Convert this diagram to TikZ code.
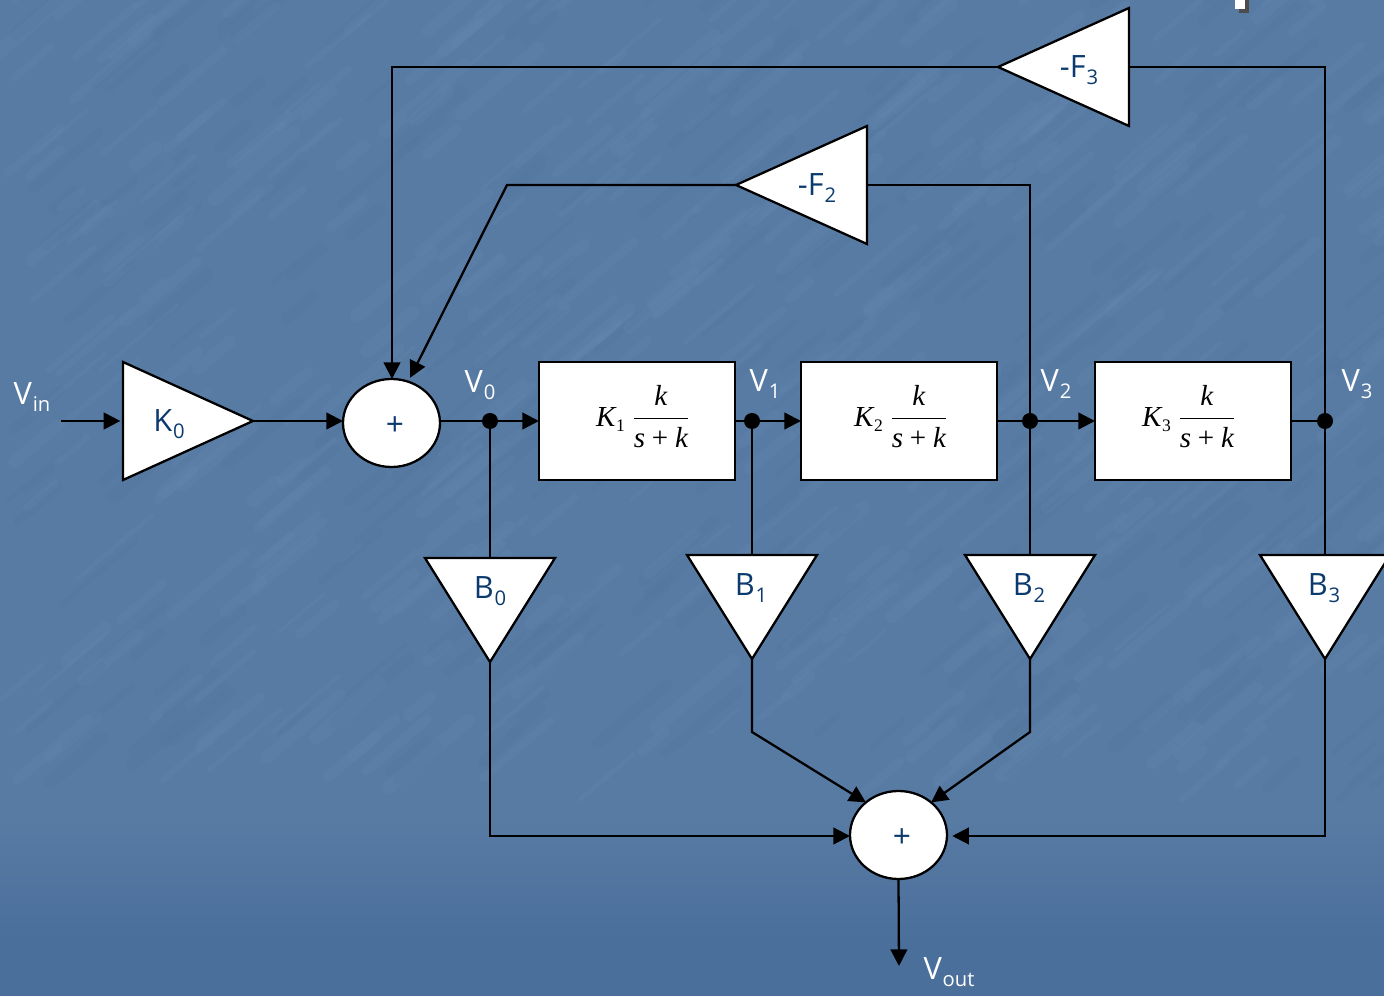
\documentclass[tikz,border=0pt]{standalone}
\usepackage{fontspec}
\usepackage{amsmath}
\setmainfont{Open Sans}
\usetikzlibrary{shapes.geometric,arrows.meta}
\definecolor{slide}{HTML}{587BA4}
\definecolor{slidelight}{HTML}{7094BA}
\definecolor{slideshade}{HTML}{4E7299}
\definecolor{slidedark}{HTML}{4A6F9B}
\definecolor{gainink}{HTML}{0B3A6E}
\newfontfamily\formulafont{Liberation Serif}
\tikzset{
  wire/.style={line width=1.3pt,black,line join=miter},
  flow/.style={wire,-{Triangle[length=9.5pt,width=9.5pt]}},
  gainbox/.style={isosceles triangle,isosceles triangle stretches,draw=black,line width=1.3pt,fill=white,inner sep=0pt,outer sep=0pt,minimum width=#1*0.02cm},
  gaintext/.style={text=gainink,font=\fontsize{17.5}{20}\selectfont,inner sep=0pt},
  sigtext/.style={text=white,font=\fontsize{17.5}{20}\selectfont,inner sep=0pt},
  filterbox/.style={draw=black,line width=1.3pt,fill=white,rectangle,outer sep=0pt,minimum width=196*0.02cm,minimum height=118*0.02cm,inner sep=0pt},
  formula/.style={inner sep=0pt,text=black,font=\fontsize{16.5}{20}\selectfont},
  adder/.style={ellipse,draw=black,line width=1.3pt,fill=white,outer sep=0pt,minimum width=97*0.02cm,minimum height=88*0.02cm,inner sep=0pt},
  plus/.style={text=gainink,font=\fontsize{18}{20}\selectfont,inner sep=0pt},
  tap/.style={circle,fill=black,minimum size=16*0.02cm,inner sep=0pt},
}
\newcommand{\lowsub}[1]{\raisebox{-4pt}{\kern0.5pt\fontsize{11.5}{12}\selectfont #1}}
\newcommand{\fvar}[1]{\text{\formulafont\itshape #1}}
\newcommand{\lagterm}[1]{$\fvar{K}\raisebox{-3pt}{\kern0.5pt\fontsize{10}{11}\selectfont\formulafont #1}\mkern4mu\dfrac{\fvar{k}}{\fvar{s}\mkern4mu\text{\formulafont +}\mkern4mu\fvar{k}}$}
\begin{document}
\begin{tikzpicture}[x=0.02cm,y=-0.02cm]
  \useasboundingbox (0,0) rectangle (1384,996);
  % slide background
  \fill[slide] (0,0) rectangle (1384,820);
  \shade[top color=slide,bottom color=slidedark] (0,820) rectangle (1384,940);
  \fill[slidedark] (0,939.5) rectangle (1384,996);
  \pgfmathsetseed{11}
  \foreach \i in {1,...,420}{
    \pgfmathsetmacro{\xa}{rnd*1384}
    \pgfmathsetmacro{\ya}{rnd*800}
    \pgfmathsetmacro{\len}{20+rnd*60}
    \pgfmathsetmacro{\wid}{2+rnd*6}
    \draw[slidelight,opacity=0.13,line width=\wid pt,line cap=round] (\xa,\ya) -- ++(\len,-0.85*\len);
  }
  \foreach \i in {1,...,260}{
    \pgfmathsetmacro{\xa}{rnd*1384}
    \pgfmathsetmacro{\ya}{rnd*800}
    \pgfmathsetmacro{\len}{20+rnd*60}
    \pgfmathsetmacro{\wid}{2+rnd*6}
    \draw[slideshade,opacity=0.12,line width=\wid pt,line cap=round] (\xa,\ya) -- ++(\len,-0.85*\len);
  }
  % corner mark
  \fill[black!70] (1239,0) rectangle (1249,13);
  \fill[white] (1235,0) rectangle (1245,9);

  % blocks
  \node[gainbox=118,minimum height=130*0.02cm,anchor=apex] (k0) at (253,421) {};
  \node[gaintext] (k0text) at (169,424) {K\lowsub{0}};
  \node[adder] (sum0) at (391.5,423) {};
  \node[plus] (sum0text) at (395,426) {+};
  \node[filterbox] (h1) at (637,421) {};
  \node[filterbox] (h2) at (899,421) {};
  \node[filterbox] (h3) at (1193,421) {};
  \node[formula] (h1text) at (643,416.5) {\lagterm{1}};
  \node[formula] (h2text) at (901,416.5) {\lagterm{2}};
  \node[formula] (h3text) at (1189,416.5) {\lagterm{3}};

  % feedback
  \node[gainbox=118,minimum height=131*0.02cm,shape border rotate=180,anchor=apex] (f3) at (998,67) {};
  \node[gaintext] (f3text) at (1079,70) {-F\lowsub{3}};
  \node[gainbox=118,minimum height=131*0.02cm,shape border rotate=180,anchor=apex] (f2) at (736,185) {};
  \node[gaintext] (f2text) at (817,188) {-F\lowsub{2}};

  % taps
  \node[gainbox=130,minimum height=104*0.02cm,shape border rotate=270,anchor=apex] (b0) at (490,662) {};
  \node[gaintext] (b0text) at (490,591) {B\lowsub{0}};
  \node[gainbox=130,minimum height=104*0.02cm,shape border rotate=270,anchor=apex] (b1) at (752,659) {};
  \node[gaintext] (b1text) at (751,588) {B\lowsub{1}};
  \node[gainbox=130,minimum height=104*0.02cm,shape border rotate=270,anchor=apex] (b2) at (1030,659) {};
  \node[gaintext] (b2text) at (1029,588) {B\lowsub{2}};
  \node[gainbox=130,minimum height=104*0.02cm,shape border rotate=270,anchor=apex] (b3) at (1325,659) {};
  \node[gaintext] (b3text) at (1324,588) {B\lowsub{3}};
  \node[adder] (sum1) at (898.5,835) {};
  \node[plus] (sum1text) at (902,838) {+};

  % junctions
  \node[tap] (v0) at (490,421) {};
  \node[tap] (v1) at (752,421) {};
  \node[tap] (v2) at (1030,421) {};
  \node[tap] (v3) at (1325,421) {};

  % signal names
  \node[sigtext] (vin) at (32,397) {V\lowsub{in}};
  \node[sigtext] (v0text) at (480,385) {V\lowsub{0}};
  \node[sigtext] (v1text) at (765,384) {V\lowsub{1}};
  \node[sigtext] (v2text) at (1056,384) {V\lowsub{2}};
  \node[sigtext] (v3text) at (1357,384) {V\lowsub{3}};
  \node[sigtext] (vout) at (949,972) {V\lowsub{out}};

  % free ends and bends
  \coordinate (vinend) at (61,421);
  \coordinate (voutend) at (899,966);
  \coordinate (f3left) at (392,67);
  \coordinate (f3right) at (1325,67);
  \coordinate (f2left) at (507,185);
  \coordinate (f2right) at (1030,185);
  \coordinate (b0foot) at (490,836);
  \coordinate (b1knee) at (752,732);
  \coordinate (b2knee) at (1030,732);
  \coordinate (b3foot) at (1325,836);

  % forward path
  \draw[flow,shorten >=1.5pt] (vinend) -- (k0.lower side |- vinend);
  \draw[flow] (k0.apex) -- (sum0.west |- k0.apex);
  \draw[wire] (sum0.east |- v0) -- (v0);
  \draw[flow] (v0) -- (h1.west);
  \draw[wire] (h1.east) -- (v1);
  \draw[flow] (v1) -- (h2.west);
  \draw[wire] (h2.east) -- (v2);
  \draw[flow] (v2) -- (h3.west);
  \draw[wire] (h3.east) -- (v3);
  % feedback paths
  \draw[wire] (v3) -- (f3right) -- (f3.lower side |- f3right);
  \draw[flow] (f3.apex) -- (f3left) -- (sum0.north -| f3left);
  \draw[wire] (v2) -- (f2right) -- (f2.lower side |- f2right);
  \draw[flow,shorten >=2.5pt] (f2.apex) -- (f2left) -- (sum0.68);
  % output taps
  \draw[wire] (v0) -- (b0.lower side);
  \draw[wire] (v1) -- (b1.lower side);
  \draw[wire] (v2) -- (b2.lower side);
  \draw[wire] (v3) -- (b3.lower side);
  \draw[flow] (b0.apex) -- (b0foot) -- (sum1.west |- b0foot);
  \draw[flow] (b1.apex) -- (b1knee) -- (sum1.135);
  \draw[flow] (b2.apex) -- (b2knee) -- (sum1.45);
  \draw[flow,shorten >=3pt] (b3.apex) -- (b3foot) -- (sum1.east |- b3foot);
  \draw[flow] (sum1.south) -- (voutend);
\end{tikzpicture}
\end{document}
